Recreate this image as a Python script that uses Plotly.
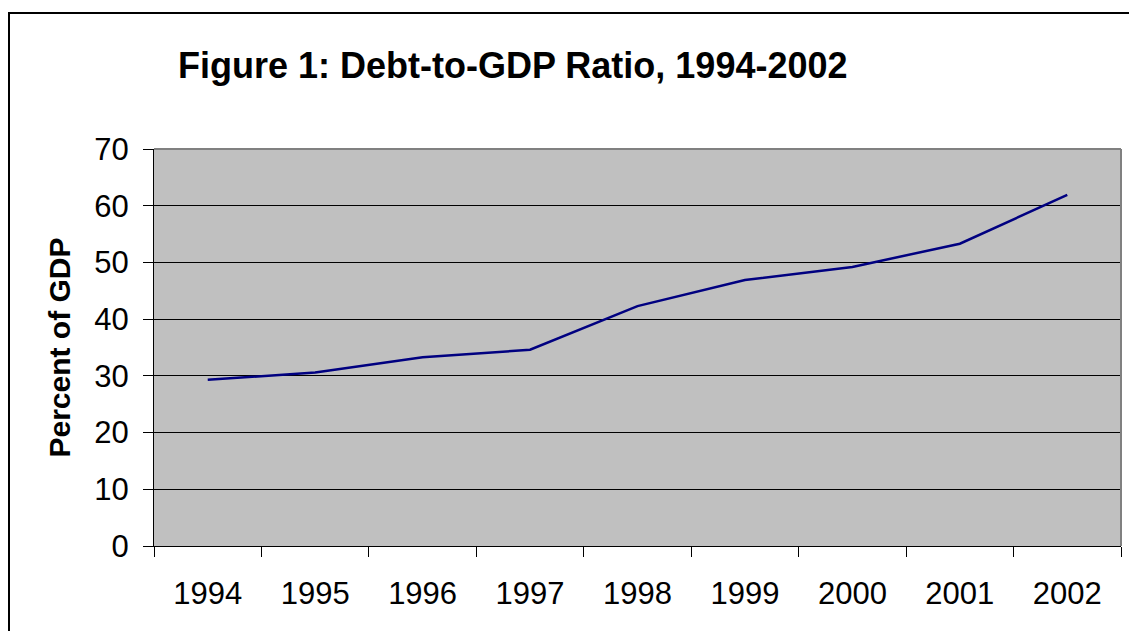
import plotly.graph_objects as go

years = ["1994", "1995", "1996", "1997", "1998", "1999", "2000", "2001", "2002"]
debt_pct = [29.3, 30.6, 33.3, 34.6, 42.3, 46.9, 49.2, 53.3, 61.9]
y_ticks = [0, 10, 20, 30, 40, 50, 60, 70]

W, H = 1129, 631
L, R, T, B = 154, 8, 149, 85
pw, ph = W - L - R, H - T - B

def px(x):
    return (x - L) / pw

def py(y):
    return (H - B - y) / ph

fig = go.Figure()
fig.add_trace(go.Scatter(x=years, y=debt_pct, mode="lines",
                         line=dict(color="#000080", width=2.5), showlegend=False))

font = "Arial, Liberation Sans, sans-serif"
fig.update_layout(
    width=W, height=H,
    margin=dict(l=L, r=R, t=T, b=B),
    paper_bgcolor="white",
    plot_bgcolor="#C0C0C0",
    font=dict(family=font, color="black"),
    xaxis=dict(type="category", range=[-0.5, 8.5], tickson="boundaries",
               ticks="outside", ticklen=10, tickcolor="black", tickwidth=1,
               showgrid=False, showline=True, linecolor="black", linewidth=1,
               tickfont=dict(size=31), ticklabelstandoff=20, zeroline=False),
    yaxis=dict(range=[0, 70], tickvals=y_ticks, ticks="outside", ticklen=10,
               tickcolor="black", tickwidth=1, showgrid=True, gridcolor="black",
               gridwidth=1, showline=True, linecolor="black", linewidth=1,
               tickfont=dict(size=31), ticklabelstandoff=8, zeroline=False,
               title=dict(text="<b>Percent of GDP</b>", font=dict(size=30), standoff=14)),
    shapes=[
        dict(type="rect", xref="paper", yref="paper", x0=px(9), y0=py(700), x1=px(1200), y1=py(13),
             line=dict(color="black", width=2), fillcolor="rgba(0,0,0,0)", layer="below"),
        dict(type="line", xref="paper", yref="paper", x0=0, x1=1, y0=1, y1=1,
             line=dict(color="#808080", width=2)),
        dict(type="line", xref="paper", yref="paper", x0=1, x1=1, y0=0, y1=1,
             line=dict(color="#808080", width=2)),
    ],
    annotations=[
        dict(text="<b>Figure 1: Debt-to-GDP Ratio, 1994-2002</b>", xref="paper", yref="paper",
             x=px(176), y=py(65), xanchor="left", yanchor="middle", showarrow=False,
             font=dict(size=36, family=font, color="black")),
    ],
)

fig.write_html("out.html")
